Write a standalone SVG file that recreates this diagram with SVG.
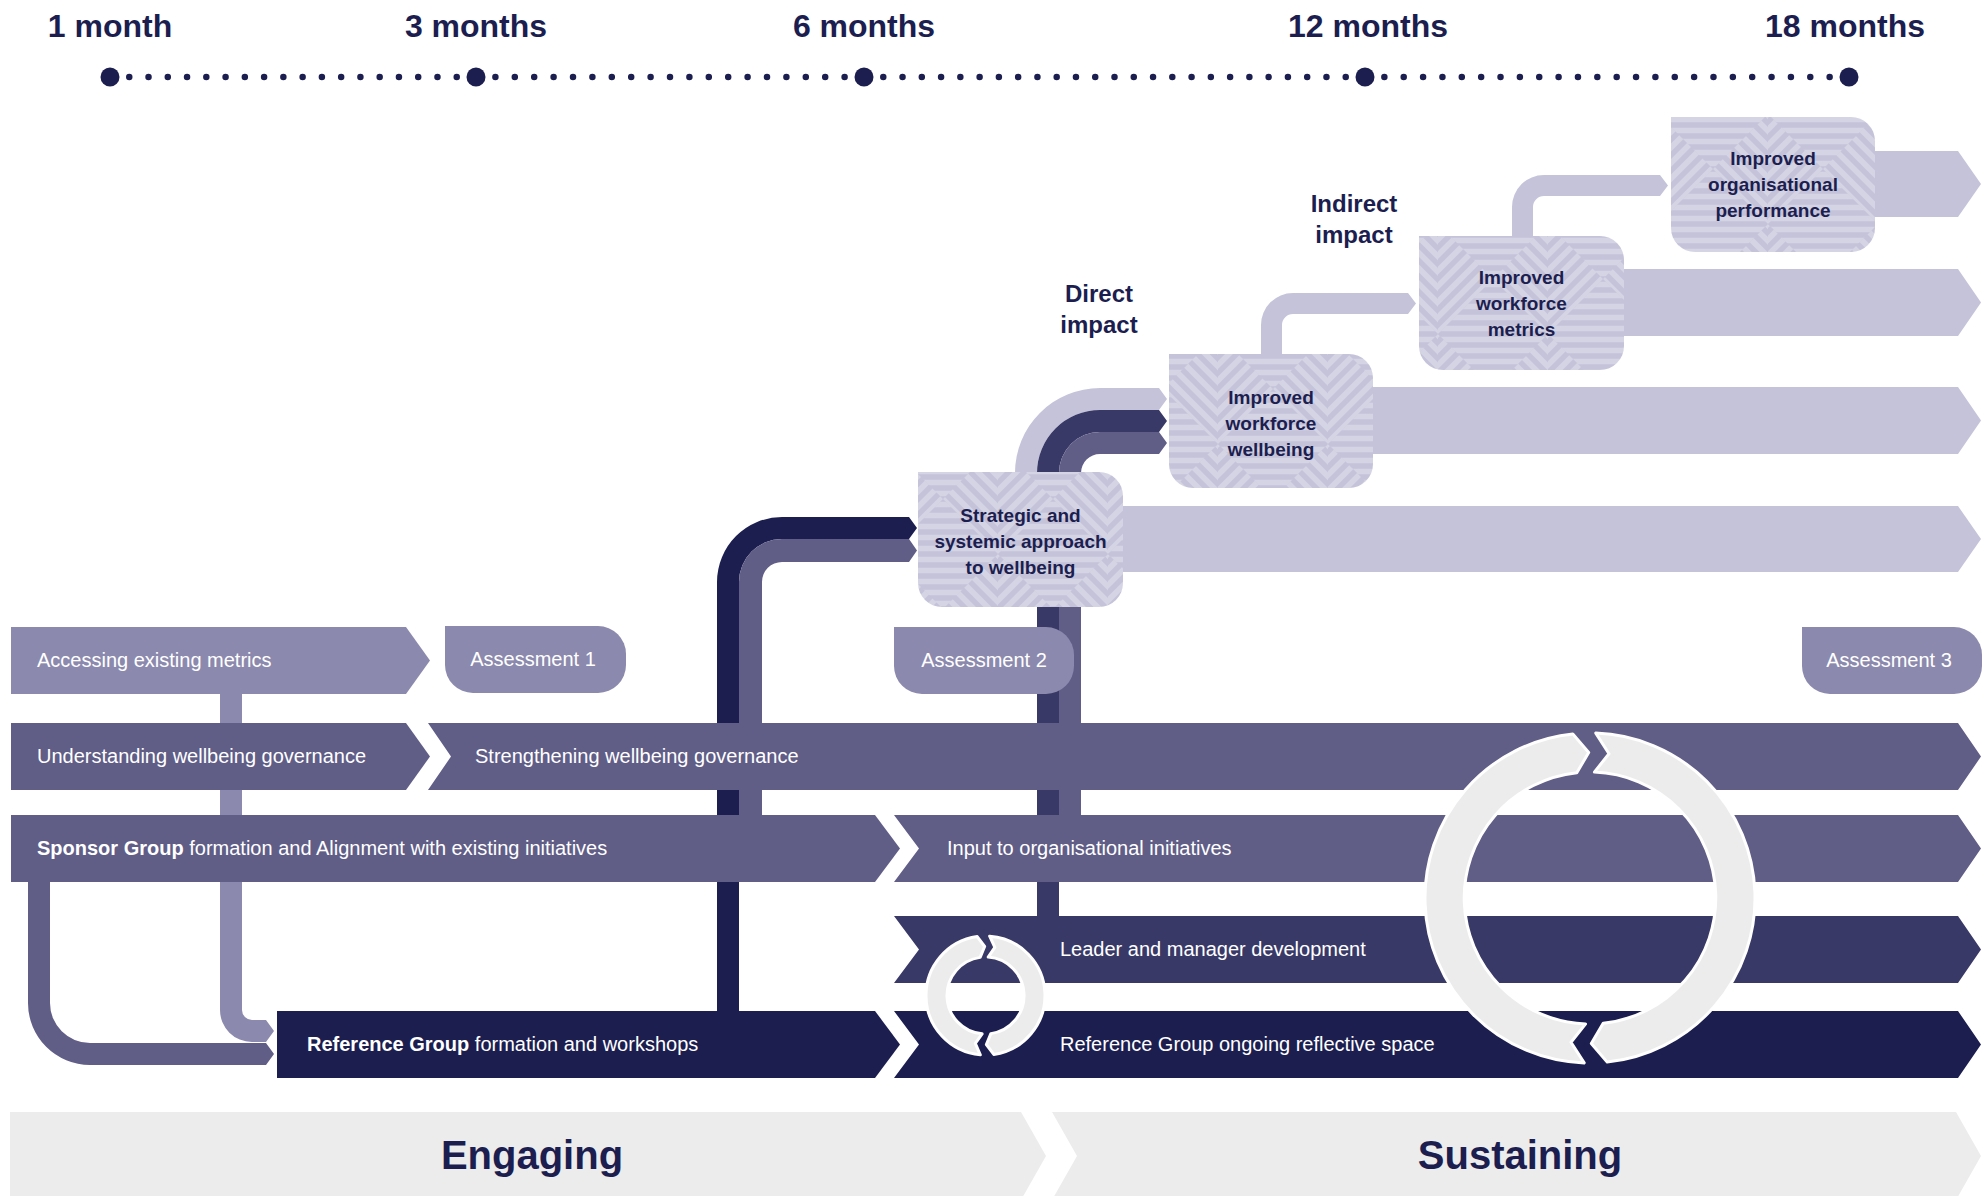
<svg xmlns="http://www.w3.org/2000/svg" width="1986" height="1196" viewBox="0 0 1986 1196">
  <style>
    .navy { fill: #1c1e50; }
    .lav { fill: #c4c3d9; }
    .light { fill: #8b89ad; }
    .mid { fill: #605d87; }
    .dark { fill: #393968; }
    .phase { fill: #ececec; }
    .ring { fill: #ececec; stroke: #ffffff; stroke-width: 3; stroke-linejoin: round; }
    .row { font-family: "Liberation Sans", Arial, sans-serif; font-size: 20px; fill: #ffffff; }
    .b { font-weight: bold; }
    .boxt { font-family: "Liberation Sans", Arial, sans-serif; font-size: 19px; font-weight: bold; fill: #1c1e50; text-anchor: middle; }
    .head { font-family: "Liberation Sans", Arial, sans-serif; font-size: 32px; font-weight: bold; fill: #1c1e50; text-anchor: middle; }
    .impact { font-family: "Liberation Sans", Arial, sans-serif; font-size: 24px; font-weight: bold; fill: #1c1e50; text-anchor: middle; }
    .phaset { font-family: "Liberation Sans", Arial, sans-serif; font-size: 40px; font-weight: bold; fill: #1c1e50; text-anchor: middle; }
    .ticks { stroke: #1c1e50; stroke-width: 6.5; stroke-linecap: round; fill: none; }
    .stripe { stroke: #ffffff; stroke-opacity: 0.28; stroke-width: 5.5; fill: none; }
  </style>
  <defs>
    <clipPath id="triTop" clipPathUnits="userSpaceOnUse"><polygon points="0,0 110,0 55,55"/></clipPath>
    <clipPath id="triBottom" clipPathUnits="userSpaceOnUse"><polygon points="0,110 110,110 55,55"/></clipPath>
    <clipPath id="triLeft" clipPathUnits="userSpaceOnUse"><polygon points="0,0 55,55 0,110"/></clipPath>
    <clipPath id="triRight" clipPathUnits="userSpaceOnUse"><polygon points="110,0 55,55 110,110"/></clipPath>
    <!-- woven stripe texture for the outcome boxes -->
    <pattern id="hatch" patternUnits="userSpaceOnUse" width="110" height="110" x="8" y="4">
      <rect width="110" height="110" fill="#c4c3d9"/>
      <path class="stripe" clip-path="url(#triTop)" d="M0 5.5H110M0 16.5H110M0 27.5H110M0 38.5H110M0 49.5H110"/>
      <path class="stripe" clip-path="url(#triBottom)" d="M0 60.5H110M0 71.5H110M0 82.5H110M0 93.5H110M0 104.5H110"/>
      <path class="stripe" clip-path="url(#triLeft)" d="M-110 110L0 0M-94.5 110L15.5 0M-79 110L31 0M-63.5 110L46.5 0M-48 110L62 0M-32.5 110L77.5 0M-17 110L93 0M-1.5 110L108.5 0M14 110L124 0M29.5 110L139.5 0M45 110L155 0M60.5 110L170.5 0"/>
      <path class="stripe" clip-path="url(#triRight)" d="M-62 0L48 110M-46.5 0L63.5 110M-31 0L79 110M-15.5 0L94.5 110M0 0L110 110M15.5 0L125.5 110M31 0L141 110M46.5 0L156.5 110M62 0L172 110M77.5 0L187.5 110M93 0L203 110M108.5 0L218.5 110"/>
    </pattern>
  </defs>

  <!-- phase bands -->
  <g id="phase-engaging">
    <polygon class="phase" points="10,1112 1021,1112 1046,1156 1021,1200 10,1200"/>
    <text class="phaset" x="532" y="1169">Engaging</text>
  </g>
  <g id="phase-sustaining">
    <polygon class="phase" points="1052,1112 1956,1112 1981,1156 1956,1200 1052,1200 1077,1156"/>
    <text class="phaset" x="1520" y="1169">Sustaining</text>
  </g>

  <!-- timeline -->
  <g id="timeline">
    <line class="ticks" x1="129.26" y1="77" x2="457" y2="77" stroke-dasharray="0 19.263"/>
    <line class="ticks" x1="495.4" y1="77" x2="845" y2="77" stroke-dasharray="0 19.4"/>
    <line class="ticks" x1="883.27" y1="77" x2="1346" y2="77" stroke-dasharray="0 19.269"/>
    <line class="ticks" x1="1384.36" y1="77" x2="1830" y2="77" stroke-dasharray="0 19.36"/>
    <circle class="navy" cx="110" cy="77" r="9.5"/>
    <circle class="navy" cx="476" cy="77" r="9.5"/>
    <circle class="navy" cx="864" cy="77" r="9.5"/>
    <circle class="navy" cx="1365" cy="77" r="9.5"/>
    <circle class="navy" cx="1849" cy="77" r="9.5"/>
    <text class="head" x="110" y="37">1 month</text>
    <text class="head" x="476" y="37">3 months</text>
    <text class="head" x="864" y="37">6 months</text>
    <text class="head" x="1368" y="37">12 months</text>
    <text class="head" x="1845" y="37">18 months</text>
  </g>

  <!-- outcome streams -->
  <g id="outcome-streams">
    <polygon class="lav" points="1100,506 1958,506 1981,539 1958,572 1100,572"/>
    <polygon class="lav" points="1350,387 1958,387 1981,420.5 1958,454 1350,454"/>
    <polygon class="lav" points="1600,269 1958,269 1981,302.5 1958,336 1600,336"/>
    <polygon class="lav" points="1850,151 1958,151 1981,184 1958,217 1850,217"/>
  </g>

  <!-- connectors -->
  <g id="connectors">
    <path class="lav" d="M1261,360 L1261,325 A32 32 0 0 1 1293,293 L1408,293 L1416,303.5 L1408,314 L1293,314 A11 11 0 0 0 1282,325 L1282,360 Z"/>
    <path class="lav" d="M1512,242 L1512,207 A32 32 0 0 1 1544,175 L1660,175 L1668,185.5 L1660,196 L1544,196 A11 11 0 0 0 1533,207 L1533,242 Z"/>
    <path class="lav" d="M1015,480 L1015,473 A85 85 0 0 1 1100,388 L1159,388 L1167,399 L1159,410 L1100,410 A63 63 0 0 0 1037,473 L1037,480 Z"/>
    <path class="dark" d="M1037,920 L1037,473 A63 63 0 0 1 1100,410 L1159,410 L1167,421 L1159,432 L1100,432 A41 41 0 0 0 1059,473 L1059,920 Z"/>
    <path class="mid" d="M1059,818 L1059,473 A41 41 0 0 1 1100,432 L1159,432 L1167,443 L1159,454 L1100,454 A19 19 0 0 0 1081,473 L1081,818 Z"/>
    <path class="navy" d="M717,1014 L717,582 A65 65 0 0 1 782,517 L909,517 L917,528 L909,539 L782,539 A43 43 0 0 0 739,582 L739,1014 Z"/>
    <path class="mid" d="M739,818 L739,582 A43 43 0 0 1 782,539 L909,539 L917,550.5 L909,562 L782,562 A20 20 0 0 0 762,582 L762,818 Z"/>
    <path class="light" d="M220,690 L220,1010 A32 32 0 0 0 252,1042 L266,1042 L274,1031 L266,1020 L252,1020 A10 10 0 0 1 242,1010 L242,690 Z"/>
    <path class="mid" d="M28,878 L28,1003 A62 62 0 0 0 90,1065 L266,1065 L274,1054 L266,1043 L90,1043 A40 40 0 0 1 50,1003 L50,878 Z"/>
  </g>

  <!-- activity rows -->
  <g id="accessing-metrics">
    <polygon class="light" points="11,627 406,627 430,660.5 406,694 11,694"/>
    <text class="row" x="37" y="667">Accessing existing metrics</text>
  </g>
  <g id="understanding-governance">
    <polygon class="mid" points="11,723 406,723 430,756.5 406,790 11,790"/>
    <text class="row" x="37" y="763">Understanding wellbeing governance</text>
  </g>
  <g id="strengthening-governance">
    <polygon class="mid" points="428,723 1958,723 1981,756.5 1958,790 428,790 451,756.5"/>
    <text class="row" x="475" y="763">Strengthening wellbeing governance</text>
  </g>
  <g id="sponsor-group">
    <polygon class="mid" points="11,815 875,815 900,848.5 875,882 11,882"/>
    <text class="row" x="37" y="855"><tspan class="b">Sponsor Group</tspan> formation and Alignment with existing initiatives</text>
  </g>
  <g id="organisational-input">
    <polygon class="mid" points="894,815 1958,815 1981,848.5 1958,882 894,882 919,848.5"/>
    <text class="row" x="947" y="855">Input to organisational initiatives</text>
  </g>
  <g id="leader-development">
    <polygon class="dark" points="894,916 1958,916 1981,949.5 1958,983 894,983 919,949.5"/>
    <text class="row" x="1060" y="956">Leader and manager development</text>
  </g>
  <g id="reference-group">
    <polygon class="navy" points="277,1011 875,1011 900,1044.5 875,1078 277,1078"/>
    <text class="row" x="307" y="1051"><tspan class="b">Reference Group</tspan> formation and workshops</text>
  </g>
  <g id="reflective-space">
    <polygon class="navy" points="894,1011 1958,1011 1981,1044.5 1958,1078 894,1078 919,1044.5"/>
    <text class="row" x="1060" y="1051">Reference Group ongoing reflective space</text>
  </g>

  <!-- assessments -->
  <g id="assessment-1">
    <path class="light" d="M445,626 H598 A28 28 0 0 1 626,654 V665 A28 28 0 0 1 598,693 H473 A28 28 0 0 1 445,665 Z"/>
    <text class="row" x="533" y="666" text-anchor="middle">Assessment 1</text>
  </g>
  <g id="assessment-2">
    <path class="light" d="M894,627 H1046 A28 28 0 0 1 1074,655 V666 A28 28 0 0 1 1046,694 H922 A28 28 0 0 1 894,666 Z"/>
    <text class="row" x="984" y="667" text-anchor="middle">Assessment 2</text>
  </g>
  <g id="assessment-3">
    <path class="light" d="M1802,627 H1954 A28 28 0 0 1 1982,655 V666 A28 28 0 0 1 1954,694 H1830 A28 28 0 0 1 1802,666 Z"/>
    <text class="row" x="1889" y="667" text-anchor="middle">Assessment 3</text>
  </g>

  <!-- outcomes -->
  <g id="strategic-approach">
    <path fill="url(#hatch)" d="M918,472 H1099 A24 24 0 0 1 1123,496 V583 A24 24 0 0 1 1099,607 H942 A24 24 0 0 1 918,583 Z"/>
    <text class="boxt" x="1020.5" y="522">Strategic and</text>
    <text class="boxt" x="1020.5" y="548">systemic approach</text>
    <text class="boxt" x="1020.5" y="574">to wellbeing</text>
  </g>
  <g id="workforce-wellbeing">
    <path fill="url(#hatch)" d="M1169,354 H1349 A24 24 0 0 1 1373,378 V464 A24 24 0 0 1 1349,488 H1193 A24 24 0 0 1 1169,464 Z"/>
    <text class="boxt" x="1271" y="404">Improved</text>
    <text class="boxt" x="1271" y="430">workforce</text>
    <text class="boxt" x="1271" y="456">wellbeing</text>
  </g>
  <g id="workforce-metrics">
    <path fill="url(#hatch)" d="M1419,236 H1600 A24 24 0 0 1 1624,260 V346 A24 24 0 0 1 1600,370 H1443 A24 24 0 0 1 1419,346 Z"/>
    <text class="boxt" x="1521.5" y="284">Improved</text>
    <text class="boxt" x="1521.5" y="310">workforce</text>
    <text class="boxt" x="1521.5" y="336">metrics</text>
  </g>
  <g id="organisational-performance">
    <path fill="url(#hatch)" d="M1671,117 H1851 A24 24 0 0 1 1875,141 V228 A24 24 0 0 1 1851,252 H1695 A24 24 0 0 1 1671,228 Z"/>
    <text class="boxt" x="1773" y="165">Improved</text>
    <text class="boxt" x="1773" y="191">organisational</text>
    <text class="boxt" x="1773" y="217">performance</text>
  </g>

  <g id="direct-impact">
    <text class="impact" x="1099" y="302">Direct</text>
    <text class="impact" x="1099" y="333">impact</text>
  </g>
  <g id="indirect-impact">
    <text class="impact" x="1354" y="212">Indirect</text>
    <text class="impact" x="1354" y="243">impact</text>
  </g>

  <!-- cycle loops -->
  <g id="cycle-large">
    <path class="ring" d="M1595.8,733.1 A165 165 0 0 1 1607.2,1062.1 L1591.3,1043.5 L1603.2,1023.3 A126 126 0 0 0 1594.4,772.1 L1609.0,753.7 Z"/>
    <path class="ring" d="M1584.2,1062.9 A165 165 0 0 1 1572.8,733.9 L1588.7,752.5 L1576.8,772.7 A126 126 0 0 0 1585.6,1023.9 L1571.0,1042.3 Z"/>
  </g>
  <g id="cycle-small">
    <path class="ring" d="M989.65,936.15 A59.5 59.5 0 0 1 993.78,1054.42 L986.36,1044.49 L990.86,1033.63 A38.5 38.5 0 0 0 988.19,957.09 L994.85,947.4 Z"/>
    <path class="ring" d="M980.31,1054.77 A59.5 59.5 0 0 1 977.22,936.58 L984.65,946.51 L980.14,957.37 A38.5 38.5 0 0 0 982.14,1033.85 L975.31,1043.43 Z"/>
  </g>
</svg>
